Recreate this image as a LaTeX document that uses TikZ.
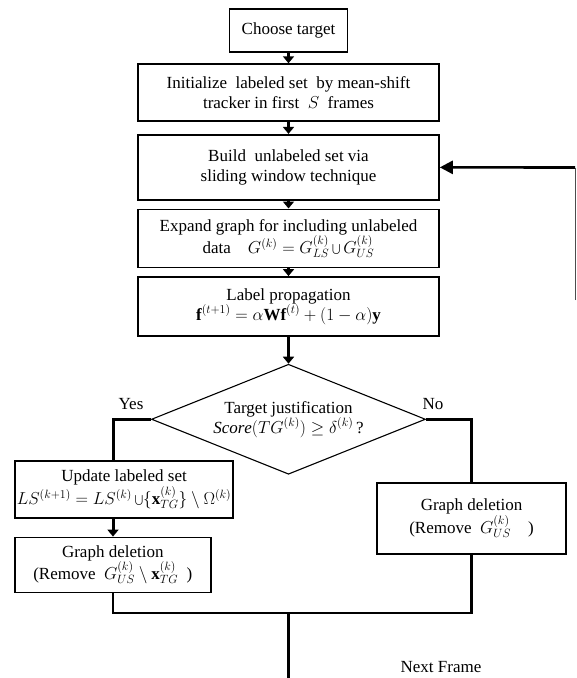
\documentclass[tikz,border=0pt]{standalone}
\usepackage{fontspec}
\setmainfont{Liberation Serif}
\usetikzlibrary{shapes.geometric,positioning,arrows.meta}
\tikzset{
	inicio/.style={rectangle, draw, line width=1.6pt, minimum width=118pt, 
		minimum height=43pt, font=\fontsize{17}{19}\selectfont},
	caja/.style={rectangle, draw, line width=1.6pt, text width=295pt, 
		inner sep=3pt, align=flush center, font=\fontsize{17}{20}\selectfont},
	decision/.style={diamond, draw, line width=1.1pt, minimum width=274pt, 
		minimum height=110pt, aspect=2.49, inner sep=0pt, align=flush center, 
		font=\fontsize{17}{20}\selectfont},
	rama/.style={rectangle, draw, line width=1.6pt, inner sep=2pt, 
		align=flush center, font=\fontsize{17}{20}\selectfont},
	flecha/.style={line width=3pt, -{Triangle[width=11pt,length=7pt]}},
	gruesa/.style={line width=3pt},
	linea/.style={line width=2.2pt},
	etiqueta/.style={font=\fontsize{17}{19}\selectfont}
}

\begin{document}
\begin{tikzpicture}[x=1pt, y=1pt, node distance=8pt]
	\useasboundingbox (0,0) rectangle (577,-678);
	
	\node[inicio] (choose) at (288.5,-30.5) {Choose target};
	\node[caja, minimum height=57pt, below=10.5pt of choose] (init) {Initialize\enspace labeled set\enspace by mean-shift\\ tracker in first\enspace $S$\enspace frames};
	\node[caja, minimum height=65pt, below=12pt of init] (build) {Build\enspace unlabeled set via\\ sliding window technique};
	\node[caja, minimum height=58pt, below=of build] (expand) {Expand graph for including unlabeled\\ data\quad $G^{(k)}=G_{LS}^{(k)}\bigcup G_{US}^{(k)}$};
	\node[caja, minimum height=59pt, below=of expand] (prop) {Label propagation\\ $\mathbf{f}^{(t+1)}=\alpha\mathbf{W}\mathbf{f}^{(t)}+(1-\alpha)\mathbf{y}$};
	\node[decision, below=27pt of prop] (decide) {Target justification\\ $\mathit{Score}(TG^{(k)})\geq\delta^{(k)}$\,?};
	
	% rama Yes
	\node[rama, minimum width=211pt, minimum height=57pt, anchor=north west] (update) at (14,-460) {Update labeled set\\ $LS^{(k+1)}=LS^{(k)}\bigcup\{\mathbf{x}_{TG}^{(k)}\}\setminus\Omega^{(k)}$};
	\node[rama, minimum width=196pt, minimum height=55pt, below=18pt of update.south west, anchor=north west] (gdleft) {Graph deletion\\ (Remove\enspace $G_{US}^{(k)}\setminus\mathbf{x}_{TG}^{(k)}$\enspace)};
	
	% rama No
	\node[rama, minimum width=189pt, minimum height=71pt, anchor=north] (gdright) at (471.5,-482) {Graph deletion\\ (Remove\enspace $G_{US}^{(k)}$\quad)};
	
	\node[etiqueta] (yes) at (131,-404) {Yes};
	\node[etiqueta] (no) at (433,-404) {No};
	\node[etiqueta] (next) at (441,-667) {Next Frame};
	
	\coordinate (ybend) at (113,-422);
	\coordinate (merge) at (288.5,-613);
	\coordinate (fin) at (288.5,-678);
	\coordinate (loopA) at (575,-167.5);
	\coordinate (loopB) at (575,-300);
	
	\draw[flecha] (choose) -- (init);
	\draw[flecha] (init) -- (build);
	\draw[flecha] (build) -- (expand);
	\draw[flecha] (expand) -- (prop);
	\draw[flecha] (prop) -- (decide);
	
	\draw[gruesa] (decide.west) -| (ybend |- update.north);
	\draw[gruesa] (decide.east) -| (gdright.north);
	\draw[flecha] (update.south -| ybend) -- (gdleft.north -| ybend);
	
	\draw[linea] (gdleft.south -| ybend) |- (merge);
	\draw[linea] (gdright.south) |- (merge);
	\draw[linea] (merge) -- (fin);
	
	\draw[black!70, line width=1pt] (loopB) -- (loopA);
	\draw[line width=2.6pt, -{Triangle[width=13pt,length=13pt]}] (loopA) -- (build);
\end{tikzpicture}
\end{document}
